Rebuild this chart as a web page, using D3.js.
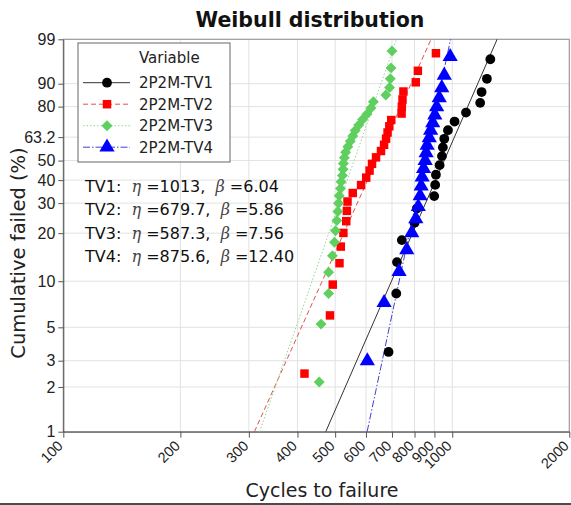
<!DOCTYPE html>
<html><head><meta charset="utf-8">
<script src="https://cdn.jsdelivr.net/npm/d3@7"></script>
<style>
body{margin:0;background:#fff;}
svg{display:block;font-family:"DejaVu Sans",sans-serif;}
</style></head>
<body><svg id="c" width="571" height="505"></svg>
<script>
// ---- data ----
const seriesNames = ["2P2M-TV1","2P2M-TV2","2P2M-TV3","2P2M-TV4"];
const tv1Cycles = [686,718,721,742,800,811,899,904,908,928,941,946,954,975,1014,1085,1180,1190,1228,1253];
const tv1Pct = [3.43,8.33,13.24,18.14,23.04,27.94,32.84,37.75,42.65,47.55,52.45,57.35,62.25,67.16,72.06,76.96,81.86,86.76,91.67,96.57];
const tv2Cycles = [417,485,493,513,517,525,534,536,538,555,583,601,613,622,637,656,668,676,682,689,697,741,742,745,749,806,816,908];
const tv2Pct = [2.46,5.99,9.51,13.03,16.55,20.07,23.59,27.11,30.63,34.15,37.68,41.20,44.72,48.24,51.76,55.28,58.80,62.32,65.85,69.37,72.89,76.41,79.93,83.45,86.97,90.49,94.01,97.54];
const tv3Cycles = [455,460,481,481,492,498,501,505,508,510,512,516,518,522,524,525,528,532,539,547,555,563,575,588,604,618,627,675,690,693,696,700];
const tv3Pct = [2.16,5.25,8.33,11.42,14.51,17.59,20.68,23.77,26.85,29.94,33.02,36.11,39.20,42.28,45.37,48.46,51.54,54.63,57.72,60.80,63.89,66.98,70.06,73.15,76.23,79.32,82.41,85.49,88.58,91.67,94.75,97.84];
const tv4Cycles = [605,668,730,764,787,806,818,827,832,837,844,852,857,862,873,880,891,902,912,926,940,954,988];
const tv4Pct = [2.99,7.26,11.54,15.81,20.09,24.36,28.63,32.91,37.18,41.45,45.73,50.00,54.27,58.55,62.82,67.09,71.37,75.64,79.91,84.19,88.46,92.74,97.01];
const etaValues = [1013, 679.7, 587.3, 875.6];
const betaValues = [6.04, 5.86, 7.56, 12.40];
const etaLabels = ["1013","679.7","587.3","875.6"];
const betaLabels = ["6.04","5.86","7.56","12.40"];
const xTicks = [100,200,300,400,500,600,700,800,900,1000,2000];
const yTicks = [1,2,3,5,10,20,30,40,50,63.2,80,90,99];
const yTickLabels = ["1","2","3","5","10","20","30","40","50","63.2","80","90","99"];

// ---- styles ----
const colors = ["#000000","#ff0000","#5fcf5f","#0000ff"];
const lineColors = ["#333333","#e05050","#8fd88f","#4040d0"];
const dashes = [null,"5,3","1.5,2","7,2,1.5,2"];

const svg = d3.select("#c");
const L=63.3, R=569.3, T=39.3, B=431.7;
const wt = p => Math.log(-Math.log(1 - p/100));
const x = d3.scaleLog().domain([100,2000]).range([L,R]);
const y = d3.scaleLinear().domain([wt(1), wt(99)]).range([B,T]);

// grid
const g = svg.append("g");
g.selectAll("line.gx").data(xTicks.slice(1,-1)).join("line")
  .attr("x1",d=>x(d)).attr("x2",d=>x(d)).attr("y1",T).attr("y2",B)
  .attr("stroke","#e2e2e2").attr("stroke-width",1);
g.selectAll("line.gy").data(yTicks.slice(1,-1)).join("line")
  .attr("x1",L).attr("x2",R).attr("y1",d=>y(wt(d))).attr("y2",d=>y(wt(d)))
  .attr("stroke","#e2e2e2").attr("stroke-width",1);

// frame
svg.append("rect").attr("x",L).attr("y",T).attr("width",R-L).attr("height",B-T)
  .attr("fill","none").attr("stroke","#9a9a9a").attr("stroke-width",1.2);

// axes
const xAxis = svg.append("g").attr("transform",`translate(0,${B})`)
  .call(d3.axisBottom(x).tickValues(xTicks).tickFormat(d3.format("d")).tickSize(6).tickSizeOuter(0));
xAxis.select(".domain").attr("stroke","#555");
xAxis.selectAll(".tick line").attr("stroke","#555");
xAxis.selectAll(".tick text").attr("font-size","14.5px").attr("fill","#222")
  .attr("text-anchor","end").attr("y",0).attr("dy","0").attr("dx","0")
  .attr("transform","translate(0,15) rotate(-45)");

const yAxis = svg.append("g").attr("transform",`translate(${L},0)`)
  .call(d3.axisLeft(y).tickValues(yTicks.map(wt)).tickFormat((d,i)=>yTickLabels[i]).tickSize(5).tickSizeOuter(0));
yAxis.select(".domain").attr("stroke","#555");
yAxis.selectAll(".tick line").attr("stroke","#555");
yAxis.selectAll(".tick text").attr("font-size","16px").attr("fill","#222").attr("x",-8);

// title & labels
svg.append("text").attr("x",310).attr("y",27).attr("text-anchor","middle")
  .attr("font-size","20.5px").attr("font-weight","bold").attr("fill","#111").text("Weibull distribution");
svg.append("text").attr("x",322).attr("y",497).attr("text-anchor","middle")
  .attr("font-size","19px").attr("fill","#222").text("Cycles to failure");
svg.append("text").attr("transform","translate(25,253) rotate(-90)").attr("text-anchor","middle")
  .attr("font-size","19.5px").attr("fill","#222").text("Cumulative failed (%)");

// fit lines
const lineGen = d3.line().x(d=>x(d[0])).y(d=>y(d[1]));
etaValues.forEach((eta,i)=>{
  const b = betaValues[i];
  const pts = [1,99].map(p=>[eta*Math.exp(wt(p)/b), wt(p)]);
  svg.append("path").attr("d",lineGen(pts)).attr("fill","none")
    .attr("stroke",lineColors[i]).attr("stroke-width",1)
    .attr("stroke-dasharray",dashes[i]);
});

// markers
const symbols = [d3.symbolCircle, d3.symbolSquare, d3.symbolSquare, d3.symbolTriangle];
const rotations = [0,0,45,0];
const sizes = [75, 72, 60, 100];
const data = [[tv1Cycles,tv1Pct],[tv2Cycles,tv2Pct],[tv3Cycles,tv3Pct],[tv4Cycles,tv4Pct]];
data.forEach(([cx,cp],i)=>{
  svg.append("g").selectAll("path").data(cx.map((c,k)=>[c,cp[k]])).join("path")
    .attr("d",d3.symbol().type(symbols[i]).size(sizes[i]))
    .attr("transform",d=>`translate(${x(d[0])},${y(wt(d[1]))}) rotate(${rotations[i]})`)
    .attr("fill",colors[i]);
});

// legend
const lg = svg.append("g");
lg.append("rect").attr("x",78).attr("y",43).attr("width",152).attr("height",119)
  .attr("fill","#fff").attr("stroke","#666").attr("stroke-width",1);
lg.append("text").attr("x",139).attr("y",63).attr("font-size","15px").attr("fill","#222").text("Variable");
seriesNames.forEach((n,i)=>{
  const yy = 82.7 + i*21.5;
  lg.append("line").attr("x1",83).attr("x2",130).attr("y1",yy).attr("y2",yy)
    .attr("stroke",lineColors[i]).attr("stroke-width",1).attr("stroke-dasharray",dashes[i]);
  lg.append("path").attr("d",d3.symbol().type(symbols[i]).size(sizes[i])())
    .attr("transform",`translate(107,${yy}) rotate(${rotations[i]})`).attr("fill",colors[i]);
  lg.append("text").attr("x",139).attr("y",yy+5.5).attr("font-size","15px").attr("fill","#222").text(n);
});

// parameter annotations
etaLabels.forEach((e,i)=>{
  const t = svg.append("text").attr("x",85).attr("y",192+i*23.3).attr("font-size","16px").attr("fill","#111")
    .attr("xml:space","preserve");
  t.append("tspan").text(`TV${i+1}:  `);
  t.append("tspan").attr("font-style","italic").attr("font-family","DejaVu Serif").attr("fill","#444").text("η");
  t.append("tspan").text(` =${e},  `);
  t.append("tspan").attr("font-style","italic").attr("font-family","DejaVu Serif").attr("fill","#444").text("β");
  t.append("tspan").text(` =${betaLabels[i]}`);
});

// bottom border
svg.append("line").attr("x1",0).attr("x2",571).attr("y1",504).attr("y2",504).attr("stroke","#111").attr("stroke-width",1.5);
</script></body></html>
